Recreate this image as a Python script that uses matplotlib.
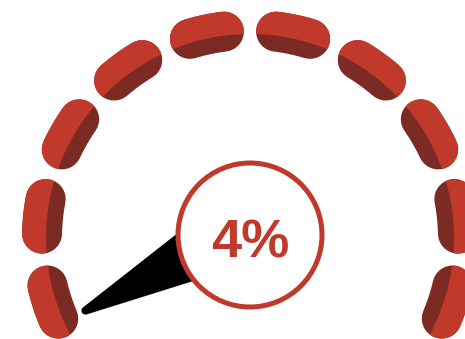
import numpy as np
import matplotlib.pyplot as plt
from matplotlib.patches import Circle, Wedge, Polygon

# gauge reading
value = 4
label = f"{value}%"
n_segments = 10
scale_start, scale_end = 218, -38   # degrees for 0% and 100%

red = '#c0392b'
dark = '#7b2a24'

cx, cy = 250, 238      # centre of the segment ring (pixels)
r = 208                # ring radius
thick = 40             # segment thickness
half_span = 4.8        # half length of each segment core, degrees

fig = plt.figure(figsize=(4.65, 3.39), dpi=100)
ax = fig.add_axes([0, 0, 1, 1])
ax.set_xlim(0, 465)
ax.set_ylim(339, 0)
ax.axis('off')

PX = 72 / fig.dpi   # points per pixel

# outer part of each segment is bright, inner band stays dark
ring = Wedge((cx, cy), r + thick, 0, 360, width=thick + 4, transform=ax.transData)

for c in np.linspace(198, -18, n_segments):
    t = np.radians(np.linspace(c - half_span, c + half_span, 30))
    xs = cx + r * np.cos(t)
    ys = cy - r * np.sin(t)
    ax.plot(xs, ys, color=dark, lw=thick * PX, solid_capstyle='round', zorder=1)
    top, = ax.plot(xs, ys, color=red, lw=thick * PX, solid_capstyle='round', zorder=2)
    top.set_clip_path(ring)

# needle
px_, py_ = 250, 224
ang = np.radians(scale_start + (scale_end - scale_start) * value / 100)
length = 186
base = 34
d = np.array([np.cos(ang), -np.sin(ang)])
n = np.array([-d[1], d[0]])
tip = np.array([px_, py_]) + d * length
needle = Polygon([tip, np.array([px_, py_]) + n * base, np.array([px_, py_]) - n * base],
                 closed=True, facecolor='black', edgecolor='black',
                 lw=8 * PX, joinstyle='round', zorder=3)
ax.add_patch(needle)

# value dial
ax.add_patch(Circle((250, 235), 72, facecolor='white', edgecolor=red,
                    lw=5 * PX, zorder=4))
ax.text(250, 257, label, ha='center', va='baseline', fontsize=39,
        fontweight='bold', family='Liberation Sans', color=red, zorder=5)

fig.savefig('out.png', dpi=100)
